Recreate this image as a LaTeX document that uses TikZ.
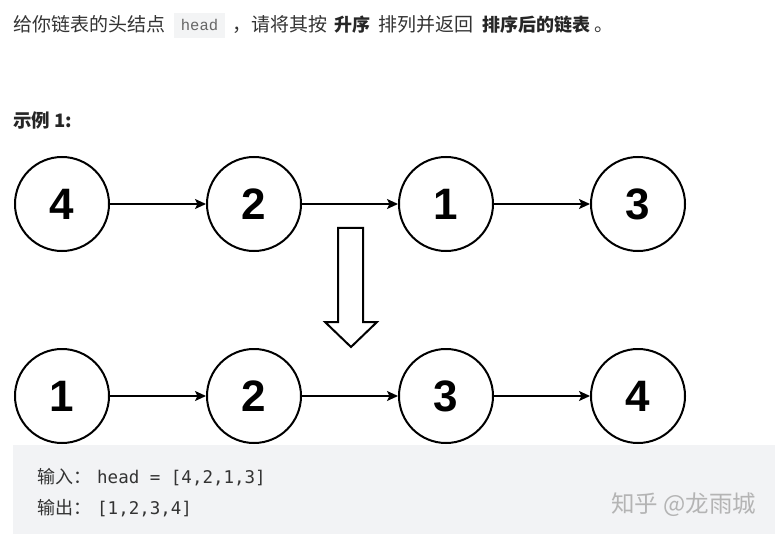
\documentclass[tikz,border=0pt]{standalone}
\usepackage{fontspec}
\usetikzlibrary{arrows.meta}
\newfontfamily\cjk{Noto Sans CJK SC}
\newfontfamily\numfont{Liberation Sans}
\newfontfamily\monof{DejaVu Sans Mono}
\newfontfamily\codef{Liberation Mono}
\definecolor{txt}{HTML}{333333}
\definecolor{codebg}{HTML}{F3F4F5}
\definecolor{boxbg}{HTML}{F2F3F5}
\definecolor{codetxt}{HTML}{666666}
\definecolor{wm}{HTML}{B4B4B4}
\tikzset{
  lnode/.style={circle, draw=black, line width=2pt, minimum size=94pt, inner sep=0pt,
    font=\numfont\fontsize{44}{44}\selectfont\bfseries},
  link/.style={line width=1.6pt, -{Stealth[length=11pt,width=10pt,inset=2.5pt]}},
  tline/.style={anchor=base west, inner sep=0pt, text=txt, font=\cjk\fontsize{19}{19}\selectfont},
  tbold/.style={anchor=base west, inner sep=0pt, text=black!85, font=\cjk\fontsize{18}{18}\selectfont\bfseries},
  bline/.style={anchor=base west, inner sep=0pt, text=txt, font=\cjk\fontsize{18}{18}\selectfont},
  mline/.style={anchor=base west, inner sep=0pt, text=txt, font=\monof\fontsize{17.5}{17.5}\selectfont},
}
\begin{document}
\begin{tikzpicture}[x=1pt,y=-1pt]
\useasboundingbox[fill=white] (0,0) rectangle (775,534);
% top text
\node[tline] (t1) at (13,32) {给你链表的头结点};
\fill[codebg] (174,13) rectangle (225,38);
\node[anchor=base, inner sep=0pt, text=codetxt, font=\codef\fontsize{15.5}{15.5}\selectfont] (thead) at (199.5,31) {head};
\node[tline] (t2) at (232,32) {，};
\node[tline] (t3) at (251,32) {请将其按};
\node[tbold] (t4) at (334,32) {升序};
\node[tline] (t5) at (378,32) {排列并返回};
\node[tbold] (t6) at (482,32) {排序后的链表};
\node[tline] (t7) at (594,32) {。};
% example label
\node[tbold, font=\cjk\fontsize{18.5}{18.5}\selectfont\bfseries] (ex) at (13,128) {示例 1:};
% top row
\node[lnode] (a1) at (62,204) {4};
\node[lnode] (a2) at (254,204) {2};
\node[lnode] (a3) at (446,204) {1};
\node[lnode] (a4) at (638,204) {3};
\draw[link] (a1) -- (a2);
\draw[link] (a2) -- (a3);
\draw[link] (a3) -- (a4);
% hollow arrow
\draw[line width=2pt, line join=miter, fill=white] (338,228) -- (363,228) -- (363,322) -- (377,322) -- (351,347) -- (325,322) -- (338,322) -- cycle;
% bottom row
\node[lnode] (b1) at (62,396) {1};
\node[lnode] (b2) at (254,396) {2};
\node[lnode] (b3) at (446,396) {3};
\node[lnode] (b4) at (638,396) {4};
\draw[link] (b1) -- (b2);
\draw[link] (b2) -- (b3);
\draw[link] (b3) -- (b4);
% example box
\fill[boxbg] (13,445) rectangle (775,534);
\node[bline] (in1) at (37,483) {输入：};
\node[mline] (in2) at (97,483) {head = [4,2,1,3]};
\node[bline] (out1) at (37,514) {输出：};
\node[mline] (out2) at (97,514) {[1,2,3,4]};
\node[anchor=base west, inner sep=0pt, text=wm, font=\cjk\fontsize{23.5}{23.5}\selectfont] (wmk) at (611,512) {知乎 @龙雨城};
\end{tikzpicture}
\end{document}
